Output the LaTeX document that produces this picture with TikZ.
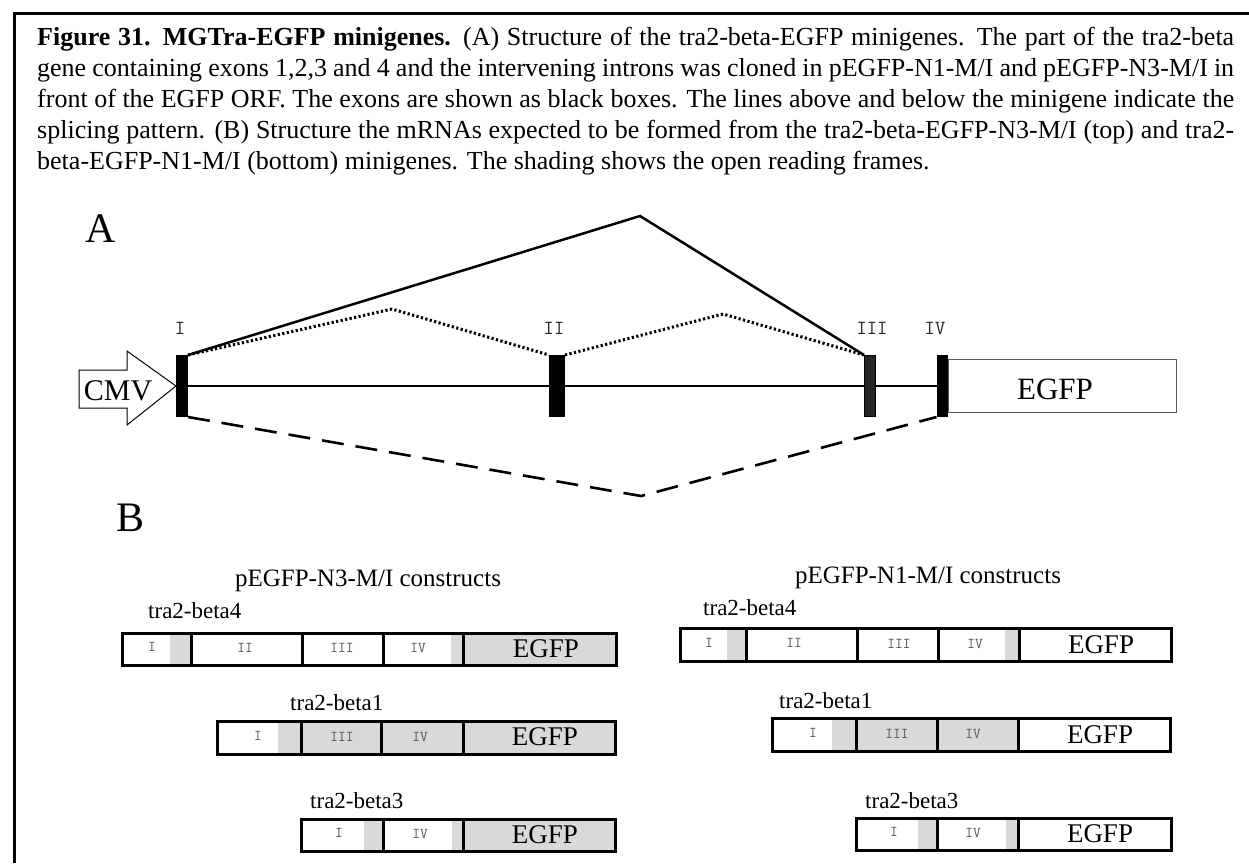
\documentclass[tikz,border=0pt]{standalone}
\usepackage{fontspec}
\setmainfont{Liberation Serif}
\definecolor{shadegray}{RGB}{217,217,217}
\definecolor{lblgray}{RGB}{85,85,85}
\newcommand\capline[1]{\makebox[1197pt][s]{#1}}
\begin{document}
\begin{tikzpicture}[x=1pt,y=-1pt,
  captext/.style={anchor=base west, inner sep=0pt, font=\fontsize{26}{31}\selectfont},
  panel/.style={inner sep=0pt, font=\fontsize{42}{42}\selectfont},
  exon/.style={fill=black, draw=black, line width=1pt, minimum width=#1, minimum height=61pt, inner sep=0pt},
  roman/.style={inner sep=0pt, font=\ttfamily\fontsize{20}{20}\selectfont, text=black!85},
  backbone/.style={line width=2.3pt},
  solidsplice/.style={line width=2.5pt},
  dotsplice/.style={line width=3pt, dash pattern=on 2.2pt off 2.4pt},
  dashsplice/.style={line width=2.6pt, dash pattern=on 22pt off 12pt},
  seg/.style={draw=black, line width=2.5pt, inner sep=0pt, anchor=north west},
  seglbl/.style={inner sep=0pt, font=\ttfamily\fontsize{15}{15}\selectfont, text=lblgray},
  egfpt/.style={inner sep=0pt, font=\fontsize{27}{27}\selectfont},
  rowlbl/.style={anchor=base west, inner sep=0pt, font=\fontsize{23}{23}\selectfont},
  heading/.style={anchor=base, inner sep=0pt, font=\fontsize{25}{25}\selectfont}
]
\useasboundingbox (0,0) rectangle (1249,863);
\fill[white] (0,0) rectangle (1249,863);
\draw[line width=3pt] (14,863) -- (14,13) -- (1249,13);

% caption
\node[captext] (cap1) at (37,45) {\capline{\textbf{Figure 31. MGTra-EGFP minigenes.} (A) Structure of the tra2-beta-EGFP minigenes. The part of the tra2-beta}};
\node[captext] (cap2) at (37,76) {\capline{gene containing exons 1,2,3 and 4 and the intervening introns was cloned in pEGFP-N1-M/I and pEGFP-N3-M/I in}};
\node[captext] (cap3) at (37,107) {\capline{front of the EGFP ORF. The exons are shown as black boxes. The lines above and below the minigene indicate the}};
\node[captext] (cap4) at (37,138) {\capline{splicing pattern. (B) Structure the mRNAs expected to be formed from the tra2-beta-EGFP-N3-M/I (top) and tra2-}};
\node[captext] (cap5) at (37,169) {beta-EGFP-N1-M/I (bottom) minigenes. The shading shows the open reading frames.};

% ---------------- Part A
\node[panel] (pA) at (101,229) {A};

\node[exon=11pt] (e1) at (182,386) {};
\node[exon=15pt] (e2) at (557,386) {};
\node[exon=11pt, fill=black!85] (e3) at (870,386) {};
\node[exon=10pt] (e4) at (942,386) {};

\node[roman] (l1) at (180,328) {I};
\node[roman] (l2) at (554,328) {II};
\node[roman] (l3) at (872,328) {III};
\node[roman] (l4) at (935,328) {IV};

\draw[backbone] (e1.east) -- (e2.west);
\draw[backbone] (e2.east) -- (e3.west);
\draw[backbone] (e3.east) -- (e4.west);

\coordinate (peak) at (640,216);
\coordinate (d1) at (392,309);
\coordinate (d2) at (723,314);
\coordinate (vee) at (641,496);
\draw[solidsplice] (e1.north east) -- (peak) -- (e3.north west);
\draw[dotsplice] (e1.north east) -- (d1) -- (e2.north west);
\draw[dotsplice] (e2.north east) -- (d2) -- (e3.north west);
\draw[dashsplice] (e1.south east) -- (vee) -- (e4.south west);

% CMV arrow
\draw[line width=1pt, fill=white] (79,370) -- (127,370) -- (127,351) -- (e1.west) -- (127,425) -- (127,408) -- (79,408) -- cycle;
\node[inner sep=0pt, font=\fontsize{30}{30}\selectfont] (cmv) at (118,391) {CMV};

% EGFP box in A
\node[draw=black!65, line width=1.5pt, minimum width=228pt, minimum height=53pt, anchor=west, inner sep=0pt] (egA) at (e4.east) {};
\node[inner sep=0pt, font=\fontsize{31}{31}\selectfont] (egAt) at (1055,389) {EGFP};

% ---------------- Part B
\node[panel] (pB) at (131,518) {B};
\node[heading] (h1) at (368,586) {pEGFP-N3-M/I constructs};
\node[heading] (h2) at (928,583) {pEGFP-N1-M/I constructs};

% left column row 1
\node[rowlbl] (t4L) at (148,618) {tra2-beta4};
\fill[shadegray] (170,632) rectangle (190,664);
\fill[shadegray] (451,632) rectangle (462,664);
\fill[shadegray] (462,632) rectangle (615,664);
\node[seg, minimum width=69pt, minimum height=32pt] (L1a) at (121,632) {};
\node[seg, minimum width=111pt, minimum height=32pt] (L1b) at (190,632) {};
\node[seg, minimum width=81pt, minimum height=32pt] (L1c) at (301,632) {};
\node[seg, minimum width=80pt, minimum height=32pt] (L1d) at (382,632) {};
\node[seg, minimum width=153pt, minimum height=32pt] (L1e) at (462,632) {};
\node[seglbl] at (152,647) {I};
\node[seglbl] at (245,648) {II};
\node[seglbl] at (342,648) {III};
\node[seglbl] at (418,648) {IV};
\node[egfpt] at (546,649) {EGFP};

% left column row 2
\node[rowlbl] (t1L) at (290,710) {tra2-beta1};
\fill[shadegray] (278,720) rectangle (300,753);
\fill[shadegray] (300,720) rectangle (614,753);
\node[seg, minimum width=84pt, minimum height=33pt] (L2a) at (216,720) {};
\node[seg, minimum width=80pt, minimum height=33pt] (L2b) at (300,720) {};
\node[seg, minimum width=82pt, minimum height=33pt] (L2c) at (380,720) {};
\node[seg, minimum width=152pt, minimum height=33pt] (L2d) at (462,720) {};
\node[seglbl] at (258,736) {I};
\node[seglbl] at (342,737) {III};
\node[seglbl] at (420,737) {IV};
\node[egfpt] at (545,737) {EGFP};

% left column row 3
\node[rowlbl] (t3L) at (310,808) {tra2-beta3};
\fill[shadegray] (364,818) rectangle (382,850);
\fill[shadegray] (452,818) rectangle (614,850);
\node[seg, minimum width=82pt, minimum height=32pt] (L3a) at (300,818) {};
\node[seg, minimum width=80pt, minimum height=32pt] (L3b) at (382,818) {};
\node[seg, minimum width=152pt, minimum height=32pt] (L3c) at (462,818) {};
\node[seglbl] at (339,833) {I};
\node[seglbl] at (420,834) {IV};
\node[egfpt] at (545,835) {EGFP};

% right column row 1
\node[rowlbl] (t4R) at (703,615) {tra2-beta4};
\fill[shadegray] (727,627) rectangle (745,660);
\fill[shadegray] (1005,627) rectangle (1018,660);
\node[seg, minimum width=66pt, minimum height=33pt] (R1a) at (679,627) {};
\node[seg, minimum width=111pt, minimum height=33pt] (R1b) at (745,627) {};
\node[seg, minimum width=81pt, minimum height=33pt] (R1c) at (856,627) {};
\node[seg, minimum width=81pt, minimum height=33pt] (R1d) at (937,627) {};
\node[seg, minimum width=152pt, minimum height=33pt] (R1e) at (1018,627) {};
\node[seglbl] at (709,643) {I};
\node[seglbl] at (794,643) {II};
\node[seglbl] at (899,644) {III};
\node[seglbl] at (975,644) {IV};
\node[egfpt] at (1101,645) {EGFP};

% right column row 2
\node[rowlbl] (t1R) at (779,708) {tra2-beta1};
\fill[shadegray] (832,717) rectangle (1017,750);
\node[seg, minimum width=84pt, minimum height=33pt] (R2a) at (771,717) {};
\node[seg, minimum width=81pt, minimum height=33pt] (R2b) at (855,717) {};
\node[seg, minimum width=81pt, minimum height=33pt] (R2c) at (936,717) {};
\node[seg, minimum width=152pt, minimum height=33pt] (R2d) at (1017,717) {};
\node[seglbl] at (813,733) {I};
\node[seglbl] at (897,734) {III};
\node[seglbl] at (973,734) {IV};
\node[egfpt] at (1100,735) {EGFP};

% right column row 3
\node[rowlbl] (t3R) at (865,808) {tra2-beta3};
\fill[shadegray] (918,817) rectangle (936,849);
\fill[shadegray] (1006,817) rectangle (1017,849);
\node[seg, minimum width=81pt, minimum height=32pt] (R3a) at (855,817) {};
\node[seg, minimum width=81pt, minimum height=32pt] (R3b) at (936,817) {};
\node[seg, minimum width=153pt, minimum height=32pt] (R3c) at (1017,817) {};
\node[seglbl] at (894,832) {I};
\node[seglbl] at (973,833) {IV};
\node[egfpt] at (1100,834) {EGFP};
\end{tikzpicture}
\end{document}
